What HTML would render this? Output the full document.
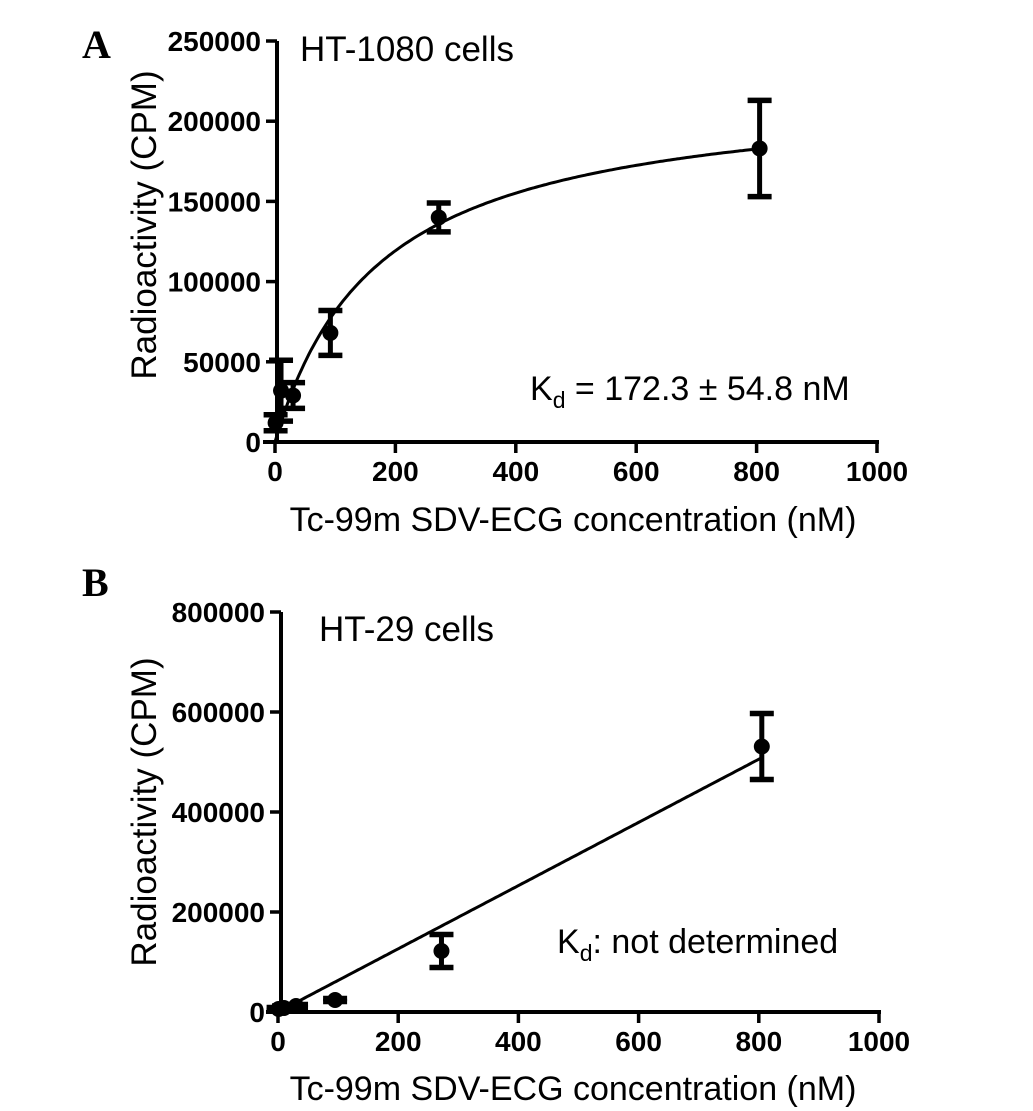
<!DOCTYPE html>
<html><head><meta charset="utf-8"><style>
html,body{margin:0;padding:0;background:#fff;}
svg{display:block;font-family:"Liberation Sans",Arial,sans-serif;}
.tick{font-size:28px;font-weight:bold;}
.lab{font-size:34px;}
.ttl{font-size:35px;}
.xttl{font-size:34px;}
.panel{font-family:"Liberation Serif",serif;font-weight:bold;font-size:40px;}
</style></head><body>
<svg id="chart" width="1033" height="1111" viewBox="0 0 1033 1111" xmlns="http://www.w3.org/2000/svg">
<text class="panel" x="82" y="58">A</text>
<text class="panel" x="82" y="596">B</text>
<g id="gA"></g>
<g id="gB"></g>
</svg>
<script>
// Panel A data
const aConc = [1, 10, 30, 92, 272, 805];
const aMean = [12000, 32000, 29000, 68000, 140000, 183000];
const aErr = [5000, 19000, 8000, 14000, 9000, 30000];
const aYTicks = [0, 50000, 100000, 150000, 200000, 250000];
const aXTicks = [0, 200, 400, 600, 800, 1000];
const aBmax = 222000;
const aKd = 172.3;
// Panel B data
const bConc = [1, 10, 30, 95, 272, 805];
const bMean = [6000, 8000, 12000, 24000, 122000, 531000];
const bErr = [3000, 4000, 3000, 3000, 33000, 66000];
const bYTicks = [0, 200000, 400000, 600000, 800000];
const bXTicks = [0, 200, 400, 600, 800, 1000];
const bSlope = 632;

const NS = "http://www.w3.org/2000/svg";
function mk(parent, tag, attrs, text) {
  const e = document.createElementNS(NS, tag);
  for (const k in attrs) e.setAttribute(k, attrs[k]);
  if (text !== undefined) e.textContent = text;
  parent.appendChild(e);
  return e;
}

function drawPanel(g, cfg) {
  const xs = v => cfg.x0 + (v - 0) / 1000 * (cfg.x1 - cfg.x0);
  const ys = v => cfg.y0 - v / cfg.ymax * (cfg.y0 - cfg.y1);
  const sw = 4;
  const ya = mk(g, 'line', {x1: cfg.yAxisX, y1: ys(cfg.ymax), x2: cfg.yAxisX, y2: cfg.y0 + 2, stroke: '#000', 'stroke-width': sw});
  
  
  cfg.yTicks.forEach(t => {
    const l = mk(g, 'line', {x1: cfg.yAxisX - 11, y1: ys(t), x2: cfg.yAxisX, y2: ys(t), stroke: '#000', 'stroke-width': 3.5});
    
    
    const tx = mk(g, 'text', {x: cfg.yAxisX - 16, y: ys(t) + 10, 'text-anchor': 'end', class: 'tick'}, String(t));
    
    
  });
  const xa = mk(g, 'line', {x1: cfg.x0 - 12, y1: cfg.y0, x2: xs(1000) + 2, y2: cfg.y0, stroke: '#000', 'stroke-width': sw});
  
  
  cfg.xTicks.forEach(t => {
    const l = mk(g, 'line', {x1: xs(t), y1: cfg.y0, x2: xs(t), y2: cfg.y0 + 11, stroke: '#000', 'stroke-width': 3.5});
    
    
    const tx = mk(g, 'text', {x: xs(t), y: cfg.y0 + 39, 'text-anchor': 'middle', class: 'tick'}, String(t));
    
    
  });
  let d = '';
  for (let i = 0; i <= 200; i++) {
    const c = cfg.fitFrom + (cfg.fitTo - cfg.fitFrom) * i / 200;
    d += (i ? 'L' : 'M') + xs(c).toFixed(1) + ',' + ys(cfg.fit(c)).toFixed(1);
  }
  const p = mk(g, 'path', {d: d, fill: 'none', stroke: '#000', 'stroke-width': 3});
  
  
  cfg.conc.forEach((c, i) => {
    const x = xs(c), m = cfg.mean[i], e = cfg.err[i];
    const eg = mk(g, 'g', {});
    
    
    mk(eg, 'line', {x1: x, y1: ys(m + e), x2: x, y2: ys(m - e), stroke: '#000', 'stroke-width': 5});
    mk(eg, 'line', {x1: x - 12, y1: ys(m + e), x2: x + 12, y2: ys(m + e), stroke: '#000', 'stroke-width': 5.5});
    mk(eg, 'line', {x1: x - 12, y1: ys(m - e), x2: x + 12, y2: ys(m - e), stroke: '#000', 'stroke-width': 5.5});
    mk(eg, 'circle', {cx: x, cy: ys(m), r: 8, fill: '#000'});
  });
  const t1 = mk(g, 'text', {x: cfg.titleX, y: cfg.titleY, class: 'ttl'}, cfg.title);
  
  
  const yt = mk(g, 'text', {x: 0, y: 0, class: 'ttl', 'text-anchor': 'middle', transform: 'translate(156,' + cfg.yTitleY + ') rotate(-90)'}, 'Radioactivity (CPM)');
  
  
  const xt = mk(g, 'text', {x: 573, y: cfg.xTitleY, class: 'xttl', 'text-anchor': 'middle'}, 'Tc-99m SDV-ECG concentration (nM)');
  
  
  const kd = mk(g, 'text', {x: cfg.kdX, y: cfg.kdY, class: 'lab'});
  
  
  mk(kd, 'tspan', {}, 'K');
  mk(kd, 'tspan', {dy: 8, 'font-size': '23px'}, 'd');
  mk(kd, 'tspan', {dy: -8}, cfg.kdText);
}

drawPanel(document.getElementById('gA'), {
  x0: 275, x1: 877, y0: 442, y1: 41, ymax: 250000, yAxisX: 277,
  yTicks: aYTicks, xTicks: aXTicks, conc: aConc, mean: aMean, err: aErr,
  fit: c => aBmax * c / (aKd + c), fitFrom: 0, fitTo: 805,
  title: 'HT-1080 cells', titleX: 300, titleY: 61, yTitleY: 225, xTitleY: 531,
  kdX: 530, kdY: 400, kdText: ' = 172.3 ± 54.8 nM'
});
drawPanel(document.getElementById('gB'), {
  x0: 278, x1: 879, y0: 1012, y1: 612, ymax: 800000, yAxisX: 281,
  yTicks: bYTicks, xTicks: bXTicks, conc: bConc, mean: bMean, err: bErr,
  fit: c => bSlope * c, fitFrom: 0, fitTo: 805,
  title: 'HT-29 cells', titleX: 319, titleY: 641, yTitleY: 812, xTitleY: 1100,
  kdX: 557, kdY: 953, kdText: ': not determined'
});
</script>
</body></html>
